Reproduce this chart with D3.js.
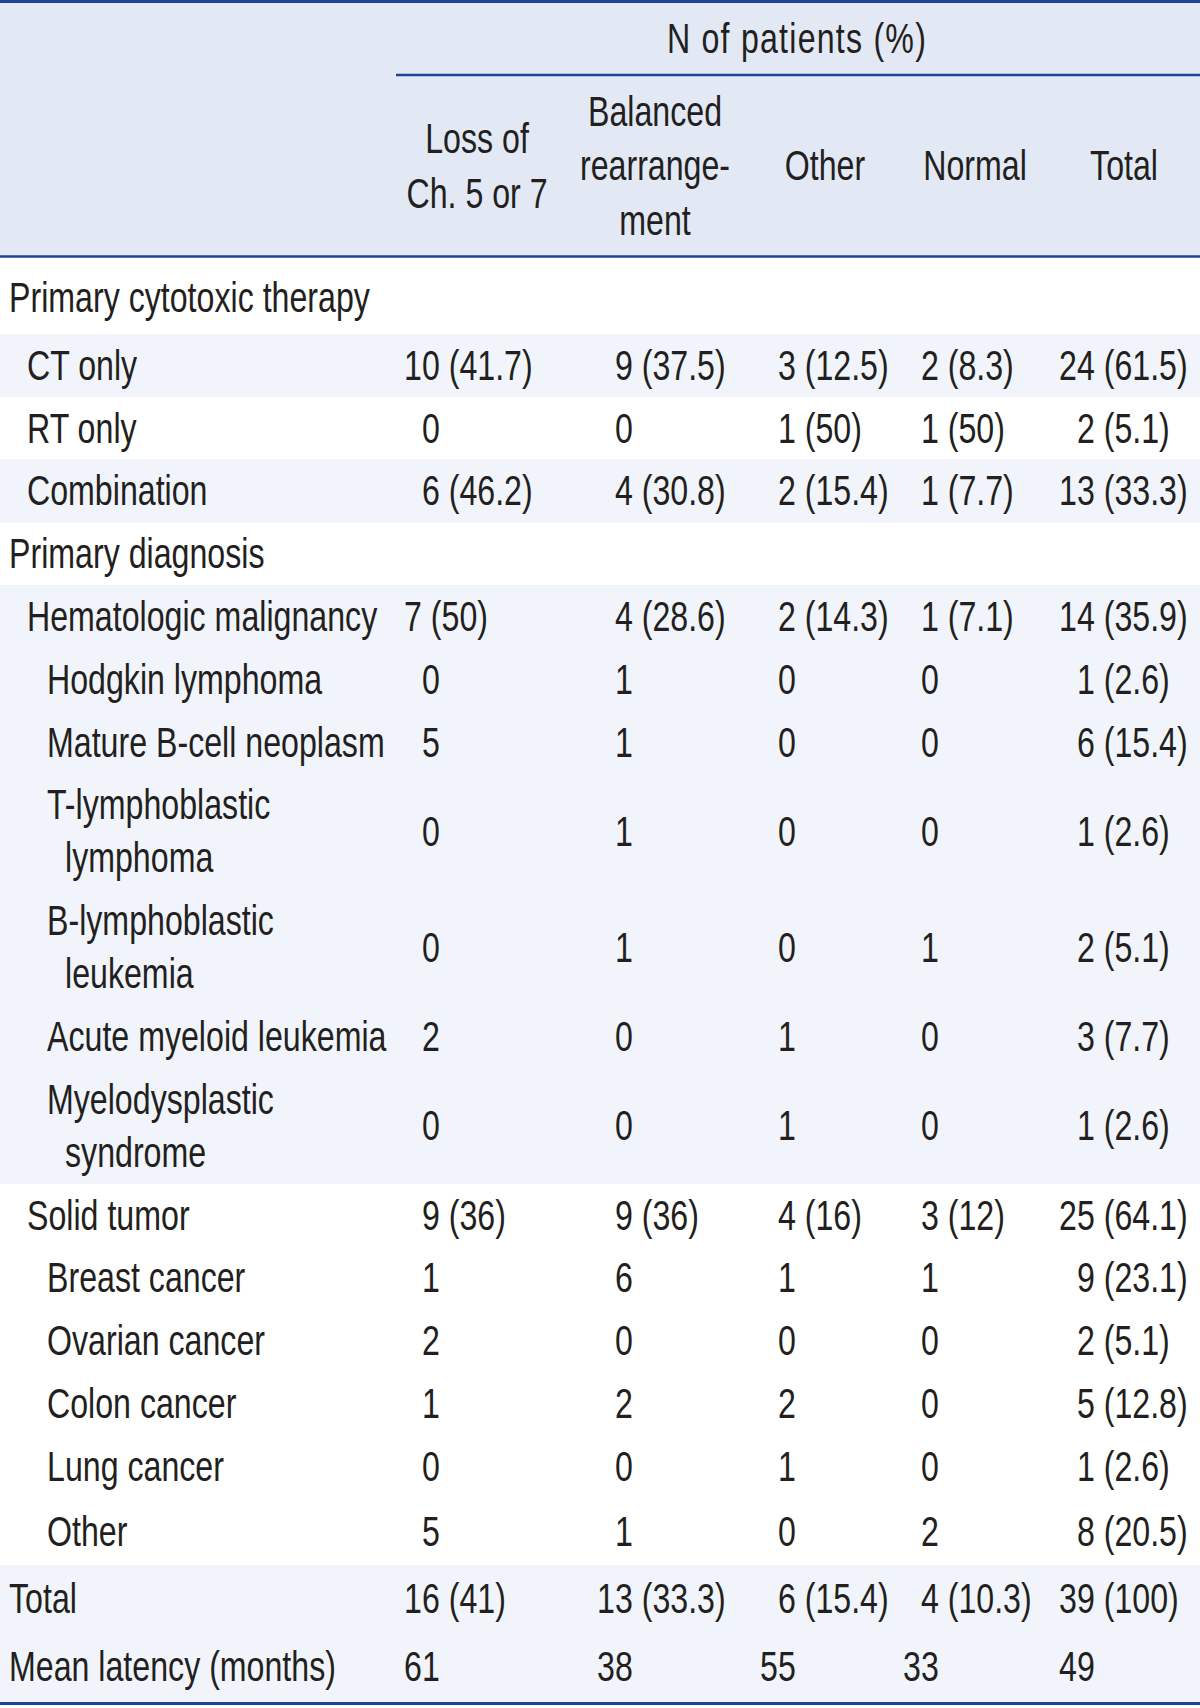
<!DOCTYPE html>
<html>
<head>
<meta charset="utf-8">
<script src="https://cdn.jsdelivr.net/npm/d3@7"></script>
<style>
  html, body { margin: 0; padding: 0; background: #ffffff; }
  svg { display: block; }
</style>
</head>
<body>
<div id="chart"></div>
<script>
// ---------------- DATA ----------------
const spanTitle = "N of patients (%)";
const columnKeys = ["loss", "balanced", "other", "normal", "total"];
const columnHeaders = [
  ["Loss of", "Ch. 5 or 7"],
  ["Balanced", "rearrange-", "ment"],
  ["Other"],
  ["Normal"],
  ["Total"]
];
const rowLabels = [
  ["Primary cytotoxic therapy"],
  ["CT only"],
  ["RT only"],
  ["Combination"],
  ["Primary diagnosis"],
  ["Hematologic malignancy"],
  ["Hodgkin lymphoma"],
  ["Mature B-cell neoplasm"],
  ["T-lymphoblastic", "lymphoma"],
  ["B-lymphoblastic", "leukemia"],
  ["Acute myeloid leukemia"],
  ["Myelodysplastic", "syndrome"],
  ["Solid tumor"],
  ["Breast cancer"],
  ["Ovarian cancer"],
  ["Colon cancer"],
  ["Lung cancer"],
  ["Other"],
  ["Total"],
  ["Mean latency (months)"]
];
const rowLevels = [0, 1, 1, 1, 0, 1, 2, 2, 2, 2, 2, 2, 1, 2, 2, 2, 2, 2, 0, 0];
// "\u2007" = figure space used in the typeset table to align single-digit counts
const F = "\u2007";
const lossValues     = [null, "10 (41.7)", F+"0", F+"6 (46.2)", null, "7 (50)", F+"0", F+"5", F+"0", F+"0", F+"2", F+"0", F+"9 (36)", F+"1", F+"2", F+"1", F+"0", F+"5", "16 (41)", "61"];
const balancedValues = [null, F+"9 (37.5)", F+"0", F+"4 (30.8)", null, F+"4 (28.6)", F+"1", F+"1", F+"1", F+"1", F+"0", F+"0", F+"9 (36)", F+"6", F+"0", F+"2", F+"0", F+"1", "13 (33.3)", "38"];
const otherValues    = [null, F+"3 (12.5)", F+"1 (50)", F+"2 (15.4)", null, F+"2 (14.3)", F+"0", F+"0", F+"0", F+"0", F+"1", F+"1", F+"4 (16)", F+"1", F+"0", F+"2", F+"1", F+"0", F+"6 (15.4)", "55"];
const normalValues   = [null, F+"2 (8.3)", F+"1 (50)", F+"1 (7.7)", null, F+"1 (7.1)", F+"0", F+"0", F+"0", F+"1", F+"0", F+"0", F+"3 (12)", F+"1", F+"0", F+"0", F+"0", F+"2", F+"4 (10.3)", "33"];
const totalValues    = [null, "24 (61.5)", F+"2 (5.1)", "13 (33.3)", null, "14 (35.9)", F+"1 (2.6)", F+"6 (15.4)", F+"1 (2.6)", F+"2 (5.1)", F+"3 (7.7)", F+"1 (2.6)", "25 (64.1)", F+"9 (23.1)", F+"2 (5.1)", F+"5 (12.8)", F+"1 (2.6)", F+"8 (20.5)", "39 (100)", "49"];
const seriesValues = [lossValues, balancedValues, otherValues, normalValues, totalValues];

// ---------------- LAYOUT / STYLE ----------------
const W = 1200, H = 1708;
const FONT = '"Liberation Sans Narrow","Arial Narrow","Liberation Sans",Arial,sans-serif';
const FS = 42;
const TEXT = "#231f20";
const RULE = "#1d4594";
const HEAD_BG = "#e2e9f5";
const SHADE = "#f1f5fb";
const shadedRows = [1, 3, 5, 6, 7, 8, 9, 10, 11, 18, 19];
const rowPad = {0: 13, 17: 5, 18: 3, 19: 8};
const ROW_H = 62.8, LINE_H = 53, HEAD_LINE_H = 54.5;
const headerTop = 0, subLineY = 75, headerBottom = 256.5, bodyTop = 258;
const subLineX0 = 396;
const spanCenterX = 797;
const levelX = [9, 27, 47];
const contIndent = 18;

const svg = d3.select("#chart").append("svg")
  .attr("width", W).attr("height", H)
  .attr("viewBox", `0 0 ${W} ${H}`);

svg.append("rect").attr("width", W).attr("height", H).attr("fill", "#ffffff");

// horizontal condense factor so the font matches the reference's condensed face
const probe = svg.append("text").attr("font-family", FONT).attr("font-size", FS)
  .text(rowLabels[0][0]);
const probeW = probe.node().getComputedTextLength();
const digitW0 = (() => { probe.text("0000000000"); return probe.node().getComputedTextLength() / 10; })();
probe.remove();
const SX = probeW > 0 ? 361 / probeW : 1;
const digitW = digitW0 * SX;

// scales
const colStart = d3.scaleOrdinal().domain(columnKeys).range([404, 597, 760, 903, 1059]);
const colCenter = d3.scaleOrdinal().domain(columnKeys).range([477, 655, 825, 975, 1124]);

const heights = rowLabels.map((l, i) => ROW_H + (l.length - 1) * LINE_H + (rowPad[i] || 0));
const tops = [bodyTop, ...d3.cumsum(heights).map(c => bodyTop + c)];
const rowTop = i => tops[i];
const rowMid = i => tops[i] + heights[i] / 2;

// backgrounds
svg.append("rect").attr("x", 0).attr("y", headerTop).attr("width", W)
  .attr("height", headerBottom - headerTop).attr("fill", HEAD_BG);
svg.append("g").selectAll("rect").data(shadedRows).join("rect")
  .attr("x", 0).attr("width", W)
  .attr("y", i => rowTop(i)).attr("height", i => heights[i] + 0.5)
  .attr("fill", SHADE);

// rules
const rules = svg.append("g").attr("stroke", RULE);
rules.append("line").attr("x1", 0).attr("x2", W).attr("y1", 1.5).attr("y2", 1.5).attr("stroke-width", 3);
rules.append("line").attr("x1", subLineX0).attr("x2", W).attr("y1", subLineY).attr("y2", subLineY).attr("stroke-width", 2.5);
rules.append("line").attr("x1", 0).attr("x2", W).attr("y1", headerBottom).attr("y2", headerBottom).attr("stroke-width", 2.5);
const bottomY = tops[rowLabels.length] + 1.5;
rules.append("line").attr("x1", 0).attr("x2", W).attr("y1", bottomY).attr("y2", bottomY).attr("stroke-width", 3);

function putText(g, str, x, yy, anchor, spacing) {
  const t = g.append("text")
    .attr("transform", `translate(${x},${yy}) scale(${SX},1)`)
    .attr("text-anchor", anchor || "start")
    .attr("font-family", FONT).attr("font-size", FS).attr("fill", TEXT)
    .text(str);
  if (spacing) t.attr("letter-spacing", spacing);
  return t;
}
const BASE = 14.5;

// header
const head = svg.append("g");
putText(head, spanTitle, spanCenterX, 53, "middle", 1.6);
const headMid = (subLineY + headerBottom) / 2;
columnKeys.forEach((k, ci) => {
  const lines = columnHeaders[ci];
  lines.forEach((ln, li) => {
    const yy = headMid + (li - (lines.length - 1) / 2) * HEAD_LINE_H + BASE;
    putText(head, ln, colCenter(k), yy, "middle");
  });
});

// body labels
const body = svg.append("g");
rowLabels.forEach((lines, ri) => {
  const mid = rowMid(ri) + (ri === 0 ? 1.5 : 0);
  lines.forEach((ln, li) => {
    const yy = mid + (li - (lines.length - 1) / 2) * LINE_H + BASE;
    const x = levelX[rowLevels[ri]] + (li > 0 ? contIndent : 0);
    putText(body, ln, x, yy, "start");
  });
});

// body values
columnKeys.forEach((k, ci) => {
  seriesValues[ci].forEach((v, ri) => {
    if (v == null) return;
    let x = colStart(k), s = v;
    if (s.startsWith(F)) { s = s.slice(1); x += digitW; }
    putText(body, s, x, rowMid(ri) + BASE, "start");
  });
});
</script>
</body>
</html>
